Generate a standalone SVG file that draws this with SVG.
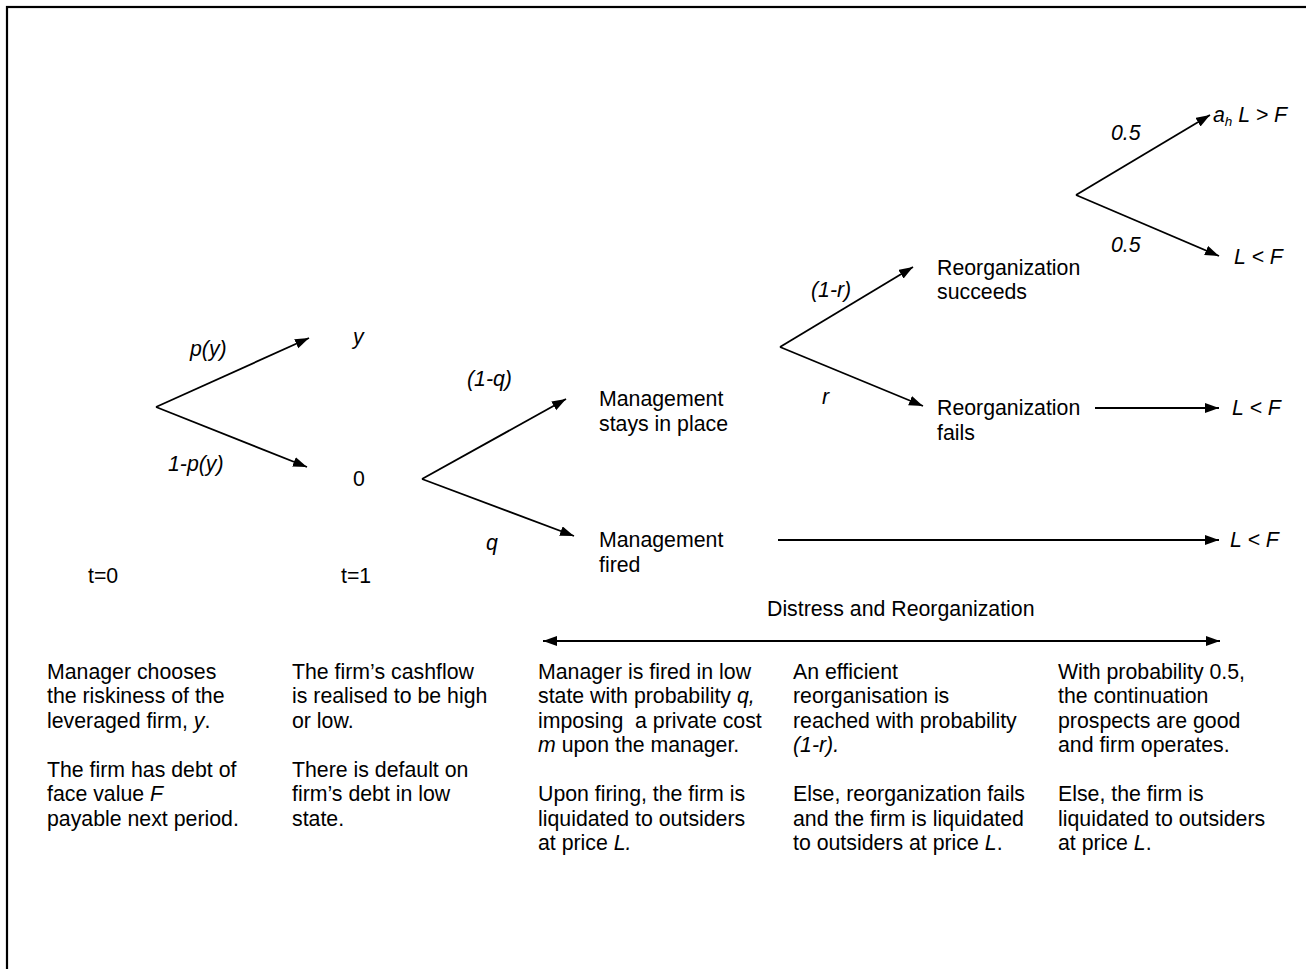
<svg xmlns="http://www.w3.org/2000/svg" width="1306" height="969" viewBox="0 0 1306 969">
<defs>
<marker id="ah" markerUnits="userSpaceOnUse" markerWidth="16" markerHeight="12" refX="14" refY="5" orient="auto-start-reverse">
<path d="M0,0 L14,5 L0,10 z" fill="#000"/>
</marker>
<style>
text{font-family:"Liberation Sans",Arial,sans-serif;font-size:21.3px;fill:#000;white-space:pre}
.i{font-style:italic}
.c line{stroke:#000;stroke-width:1.8;fill:none}
.a{marker-end:url(#ah)}
.d{marker-start:url(#ah);marker-end:url(#ah)}
</style>
</defs>
<rect width="1306" height="969" fill="#fff"/>
<rect x="7" y="7" width="1320" height="990" fill="none" stroke="#000" stroke-width="2.2"/>

<g id="connectors" class="c">
<line class="a" x1="156" y1="407" x2="309" y2="338"/>
<line class="a" x1="156" y1="407" x2="307" y2="467"/>
<line class="a" x1="422" y1="479" x2="566" y2="399"/>
<line class="a" x1="422" y1="479" x2="574" y2="536"/>
<line class="a" x1="780" y1="347" x2="913" y2="267"/>
<line class="a" x1="780" y1="347" x2="923" y2="406"/>
<line class="a" x1="1076" y1="195" x2="1210" y2="115"/>
<line class="a" x1="1076" y1="195" x2="1219" y2="256"/>
<line class="a" x1="1095" y1="408" x2="1219" y2="408"/>
<line class="a" x1="778" y1="540" x2="1219" y2="540"/>
<line class="d" x1="543" y1="641" x2="1220" y2="641"/>
</g>

<g id="edge-labels">
<text class="i" x="190" y="356">p(y)</text>
<text class="i" x="168" y="471">1-p(y)</text>
<text class="i" x="467" y="386">(1-q)</text>
<text class="i" x="486" y="550">q</text>
<text class="i" x="811" y="297">(1-r)</text>
<text class="i" x="822" y="404">r</text>
<text class="i" x="1111" y="140">0.5</text>
<text class="i" x="1111" y="252">0.5</text>
</g>

<g id="node-y"><text class="i" x="353" y="344">y</text></g>
<g id="node-0"><text x="353" y="486">0</text></g>
<g id="node-stays"><text x="599" y="406">Management</text><text x="599" y="431">stays in place</text></g>
<g id="node-fired"><text x="599" y="547">Management</text><text x="599" y="572">fired</text></g>
<g id="node-succeeds"><text x="937" y="275">Reorganization</text><text x="937" y="299">succeeds</text></g>
<g id="node-fails"><text x="937" y="415">Reorganization</text><text x="937" y="440">fails</text></g>
<g id="node-good"><text class="i" x="1213" y="122">a<tspan font-size="13.5" dy="4">h</tspan><tspan dy="-4"> L &gt; F</tspan></text></g>
<g id="node-bad1"><text class="i" x="1234" y="264">L &lt; F</text></g>
<g id="node-bad2"><text class="i" x="1232" y="415">L &lt; F</text></g>
<g id="node-bad3"><text class="i" x="1230" y="547">L &lt; F</text></g>

<g id="time-labels">
<text x="88" y="583">t=0</text>
<text x="341" y="583">t=1</text>
<text x="767" y="616">Distress and Reorganization</text>
</g>

<g id="desc-1">
<text x="47" y="679">Manager chooses</text>
<text x="47" y="703">the riskiness of the</text>
<text x="47" y="728">leveraged firm, <tspan class="i">y</tspan>.</text>
<text x="47" y="777">The firm has debt of</text>
<text x="47" y="801">face value <tspan class="i">F</tspan></text>
<text x="47" y="826">payable next period.</text>
</g>
<g id="desc-2">
<text x="292" y="679">The firm’s cashflow</text>
<text x="292" y="703">is realised to be high</text>
<text x="292" y="728">or low.</text>
<text x="292" y="777">There is default on</text>
<text x="292" y="801">firm’s debt in low</text>
<text x="292" y="826">state.</text>
</g>
<g id="desc-3">
<text x="538" y="679">Manager is fired in low</text>
<text x="538" y="703">state with probability <tspan class="i">q,</tspan></text>
<text x="538" y="728">imposing  a private cost</text>
<text x="538" y="752"><tspan class="i">m</tspan> upon the manager.</text>
<text x="538" y="801">Upon firing, the firm is</text>
<text x="538" y="826">liquidated to outsiders</text>
<text x="538" y="850">at price <tspan class="i">L.</tspan></text>
</g>
<g id="desc-4">
<text x="793" y="679">An efficient</text>
<text x="793" y="703">reorganisation is</text>
<text x="793" y="728">reached with probability</text>
<text x="793" y="752" class="i">(1-r).</text>
<text x="793" y="801">Else, reorganization fails</text>
<text x="793" y="826">and the firm is liquidated</text>
<text x="793" y="850">to outsiders at price <tspan class="i">L</tspan>.</text>
</g>
<g id="desc-5">
<text x="1058" y="679">With probability 0.5,</text>
<text x="1058" y="703">the continuation</text>
<text x="1058" y="728">prospects are good</text>
<text x="1058" y="752">and firm operates.</text>
<text x="1058" y="801">Else, the firm is</text>
<text x="1058" y="826">liquidated to outsiders</text>
<text x="1058" y="850">at price <tspan class="i">L</tspan>.</text>
</g>
</svg>
